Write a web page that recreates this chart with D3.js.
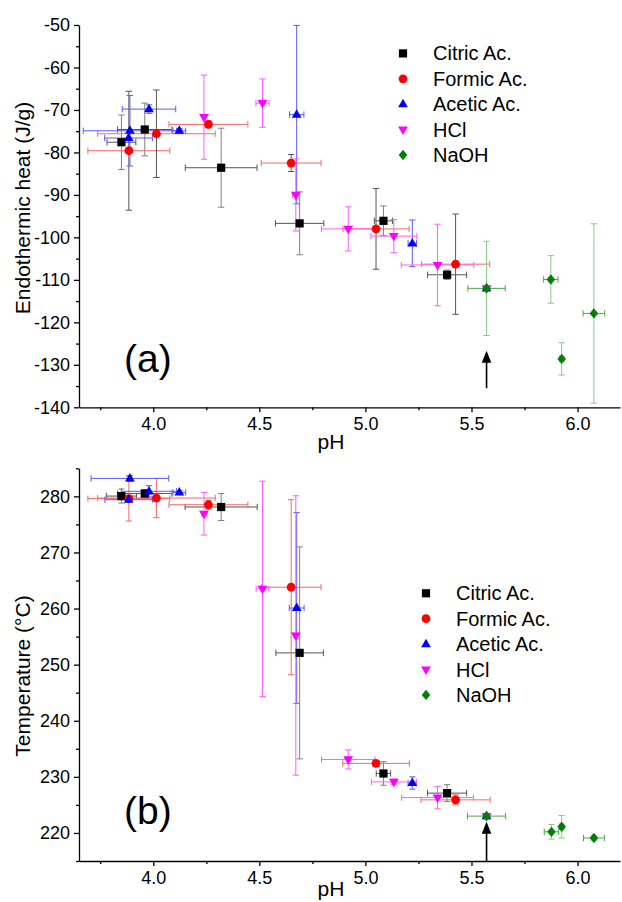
<!DOCTYPE html>
<html>
<head>
<meta charset="utf-8">
<script src="https://cdn.jsdelivr.net/npm/d3@7"></script>
<style>
  body { margin: 0; background: #fff; }
  text { font-family: "Liberation Sans", Arial, sans-serif; fill: #000; }
</style>
</head>
<body>
<div id="chart"></div>
<script>
// rows: [pH, value, pH error, value error]
const seriesNames = ['Citric Ac.', 'Formic Ac.', 'Acetic Ac.', 'HCl', 'NaOH'];

// (a) endothermic heat
const citricHeat = [[3.85, -77.6, 0.068, 6.4], [3.96, -74.6, 0.128, 6.2], [4.32, -83.6, 0.169, 9.3],
  [4.69, -96.7, 0.114, 7.4], [5.085, -96.1, 0.043, 3.5], [5.385, -108.8, 0.092, 1.1]];
const formicHeat = [[3.885, -79.6, 0.193, 14.0], [4.015, -75.6, 0.277, 10.3], [4.26, -73.4, 0.186, 0.8],
  [4.65, -82.5, 0.141, 2.0], [5.05, -98.0, 0.156, 9.5], [5.425, -106.3, 0.161, 11.8]];
const aceticHeat = [[3.89, -74.9, 0.22, 8.3], [3.884, -76.6, 0.113, 0], [3.98, -69.8, 0.126, 1.0],
  [4.123, -74.9, 0.03, 0.5], [4.676, -71.1, 0.034, 21.0], [5.221, -101.4, 0.02, 5.5], [5.571, -112.0, 0, 0]];
const hclHeat = [[4.239, -71.7, 0, 9.9], [4.515, -68.4, 0.031, 5.7], [4.672, -90.0, 0.015, 8.5],
  [4.919, -98.0, 0.126, 5.2], [5.134, -99.7, 0.108, 3.9], [5.34, -106.5, 0.171, 9.6], [5.571, -112.0, 0, 0]];
const naohHeat = [[5.571, -112.0, 0.088, 11.1], [5.874, -109.9, 0.034, 5.6], [5.925, -128.6, 0.01, 3.8],
  [6.077, -117.9, 0.051, 21.1]];

// (b) temperature
const citricTemp = [[3.85, 280.05, 0.071, 1.25], [3.96, 280.5, 0.128, 0.7], [4.32, 278.1, 0.17, 2.4],
  [4.69, 252.1, 0.112, 18.9], [5.085, 230.6, 0.034, 2.1], [5.385, 227.1, 0.092, 1.5]];
const formicTemp = [[3.885, 279.6, 0.193, 4.0], [4.015, 279.7, 0.277, 3.5], [4.26, 278.5, 0.186, 0.8],
  [4.65, 263.8, 0.141, 15.6], [5.05, 232.4, 0.157, 0.5], [5.425, 225.9, 0.163, 0.9]];
const aceticTemp = [[3.89, 283.2, 0.183, 0.5], [3.884, 279.4, 0.112, 0.3], [3.98, 280.9, 0.13, 1.0],
  [4.123, 280.7, 0.03, 0.3], [4.676, 260.1, 0.035, 17.0], [5.221, 228.9, 0.02, 1.1], [5.571, 223.0, 0, 0]];
const hclTemp = [[4.239, 276.9, 0.01, 3.8], [4.515, 263.5, 0.03, 19.2], [4.672, 255.2, 0.01, 24.9],
  [4.919, 233.1, 0.126, 1.7], [5.134, 229.1, 0.106, 0.5], [5.34, 226.3, 0.169, 2.0], [5.571, 223.0, 0, 0]];
const naohTemp = [[5.571, 223.0, 0.09, 0.5], [5.877, 220.2, 0.034, 1.3], [5.925, 221.1, 0.01, 2.0],
  [6.077, 219.1, 0.049, 0.4]];

// axes
const phDomain = [3.65, 6.2];
const phTicks = [4.0, 4.5, 5.0, 5.5, 6.0];
const phMinor = [3.75, 4.25, 4.75, 5.25, 5.75];
const heatDomain = [-140, -50];
const heatTicks = [-140, -130, -120, -110, -100, -90, -80, -70, -60, -50];
const heatMinor = [-135, -125, -115, -105, -95, -85, -75, -65, -55];
const tempDomain = [215, 285];
const tempTicks = [220, 230, 240, 250, 260, 270, 280];
const tempMinor = [215, 225, 235, 245, 255, 265, 275, 285];

// arrows: [pH, tail value, head value]
const arrowHeat = [5.571, -135.5, -126.7];
const arrowTemp = [5.571, 215, 222.0];

const styles = [
  { shape: 'square', fill: '#000000', xe: '#555555', ye: '#808080' },
  { shape: 'circle', fill: '#ff0000', xe: '#f26a6a', ye: '#555555' },
  { shape: 'up', fill: '#0000ff', xe: '#5a5aff', ye: '#5a5aff' },
  { shape: 'down', fill: '#ff00ff', xe: '#ff5cff', ye: '#ff5cff' },
  { shape: 'diamond', fill: '#008000', xe: '#4ca64c', ye: '#8cc88c' }
];

const svg = d3.select('#chart').append('svg')
  .attr('width', 622)
  .attr('height', 902);

svg.append('rect').attr('width', 622).attr('height', 902).attr('fill', '#fff');

function markerPath(shape) {
  switch (shape) {
    case 'square': return 'M-4.1,-4.1H4.1V4.1H-4.1Z';
    case 'circle': return 'M4.4,0A4.4,4.4,0,1,1,-4.4,0A4.4,4.4,0,1,1,4.4,0Z';
    case 'up': return 'M0,-5.4L4.9,3.1H-4.9Z';
    case 'down': return 'M0,5.4L4.9,-3.1H-4.9Z';
    case 'diamond': return 'M0,-5.2L4.3,0L0,5.2L-4.3,0Z';
  }
}

function drawPanel(cfg) {
  const x = d3.scaleLinear().domain(phDomain).range([79, 620]);
  const y = d3.scaleLinear().domain(cfg.domain).range(cfg.range);
  const g = svg.append('g');

  // minor ticks
  g.append('g')
    .attr('transform', `translate(0,${cfg.range[0]})`)
    .call(d3.axisBottom(x).tickValues(phMinor).tickSize(3).tickFormat(''))
    .call(a => a.select('.domain').remove());
  g.append('g')
    .attr('transform', 'translate(79,0)')
    .call(d3.axisLeft(y).tickValues(cfg.minor).tickSize(3).tickFormat(''))
    .call(a => a.select('.domain').remove());

  // major axes
  g.append('g')
    .attr('class', 'x-axis')
    .attr('transform', `translate(0,${cfg.range[0]})`)
    .call(d3.axisBottom(x).tickValues(phTicks).tickSize(5).tickSizeOuter(0).tickPadding(5)
      .tickFormat(d => d.toFixed(1)));
  g.append('g')
    .attr('class', 'y-axis')
    .attr('transform', 'translate(79,0)')
    .call(d3.axisLeft(y).tickValues(cfg.ticks).tickSize(5).tickSizeOuter(0).tickPadding(4)
      .tickFormat(d => String(d)));

  g.selectAll('.tick line').attr('stroke', '#000').attr('stroke-width', 1.3);
  g.selectAll('.domain').attr('stroke', '#000').attr('stroke-width', 1.3);
  g.selectAll('.tick text').style('font-size', '18px').style('font-family', '"Liberation Sans", Arial, sans-serif');

  // axis titles
  g.append('text')
    .attr('x', 331)
    .attr('y', cfg.phY)
    .style('text-anchor', 'middle')
    .style('font-size', '21px')
    .text('pH');

  g.append('text')
    .attr('transform', `translate(30,${cfg.labelY}) rotate(-90)`)
    .style('text-anchor', 'middle')
    .style('font-size', '21px')
    .text(cfg.title);

  // panel tag
  g.append('text')
    .attr('x', 124)
    .attr('y', cfg.tagY)
    .style('font-size', '39px')
    .text(cfg.tag);

  // arrow
  const [ap, a0, a1] = cfg.arrow;
  g.append('line')
    .attr('x1', x(ap)).attr('x2', x(ap))
    .attr('y1', y(a0)).attr('y2', y(a1) + 10)
    .attr('stroke', '#000').attr('stroke-width', 1.6);
  g.append('path')
    .attr('d', `M${x(ap)},${y(a1)}l4.8,12h-9.6Z`)
    .attr('fill', '#000');

  // error bars
  const cap = 3.2;
  cfg.series.forEach((rows, i) => {
    const st = styles[i];
    const yeColor = (cfg.formicYe && i === 1) ? cfg.formicYe : st.ye;
    const eb = g.append('g').attr('stroke-width', 1);
    rows.forEach(([p, v, pe, ve]) => {
      if (pe > 0) {
        eb.append('path')
          .attr('d', `M${x(p - pe)},${y(v)}H${x(p + pe)}M${x(p - pe)},${y(v) - cap}v${2 * cap}M${x(p + pe)},${y(v) - cap}v${2 * cap}`)
          .attr('stroke', st.xe).attr('fill', 'none');
      }
      if (ve > 0) {
        eb.append('path')
          .attr('d', `M${x(p)},${y(v - ve)}V${y(v + ve)}M${x(p) - cap},${y(v - ve)}h${2 * cap}M${x(p) - cap},${y(v + ve)}h${2 * cap}`)
          .attr('stroke', yeColor).attr('fill', 'none');
      }
    });
  });

  // markers
  cfg.series.forEach((rows, i) => {
    g.selectAll(null)
      .data(rows)
      .enter().append('path')
      .attr('d', markerPath(styles[i].shape))
      .attr('transform', d => `translate(${x(d[0])},${y(d[1])})`)
      .attr('fill', styles[i].fill);
  });

  // legend
  const legend = g.selectAll(null)
    .data(seriesNames)
    .enter().append('g')
    .attr('transform', (d, i) => `translate(${cfg.legendX},${cfg.legendY + i * 25.4})`);
  legend.append('path')
    .attr('d', (d, i) => markerPath(styles[i].shape))
    .attr('fill', (d, i) => styles[i].fill);
  legend.append('text')
    .attr('x', 30)
    .attr('y', 7)
    .style('font-size', '20px')
    .text(d => d);
}

drawPanel({
  domain: heatDomain, range: [407.3, 25], ticks: heatTicks, minor: heatMinor,
  series: [citricHeat, formicHeat, aceticHeat, hclHeat, naohHeat],
  title: 'Endothermic heat (J/g)', labelY: 208, tag: '(a)', tagY: 372, phY: 449,
  arrow: arrowHeat, legendX: 403, legendY: 53.4, formicYe: '#555555'
});

drawPanel({
  domain: tempDomain, range: [861, 468.3], ticks: tempTicks, minor: tempMinor,
  series: [citricTemp, formicTemp, aceticTemp, hclTemp, naohTemp],
  title: 'Temperature (°C)', labelY: 676, tag: '(b)', tagY: 824, phY: 896,
  arrow: arrowTemp, legendX: 426, legendY: 593.3, formicYe: '#f26a6a'
});
</script>
</body>
</html>
